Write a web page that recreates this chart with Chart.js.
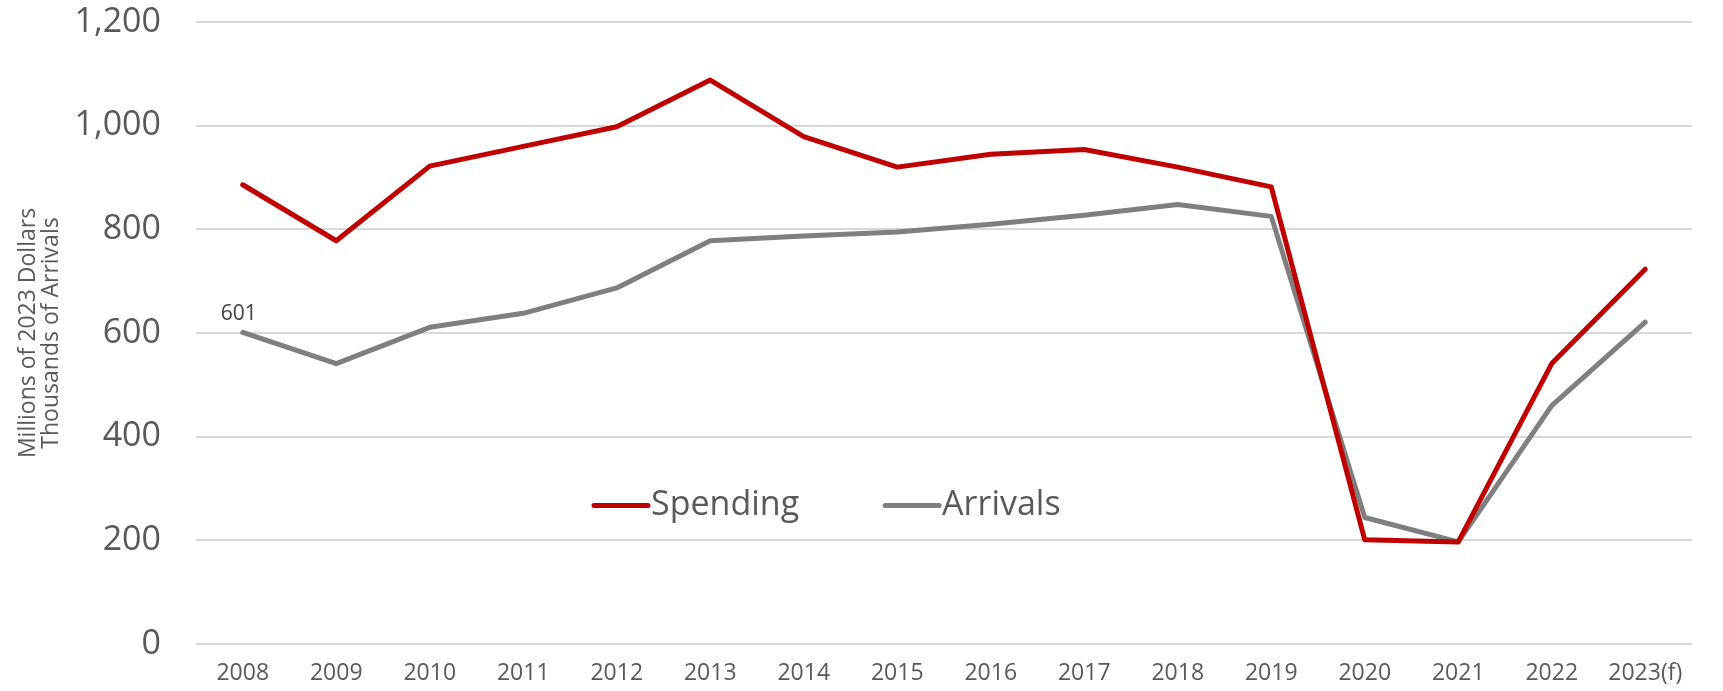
<!DOCTYPE html>
<html>
<head>
<meta charset="utf-8">
<script src="https://cdn.jsdelivr.net/npm/chart.js@4/dist/chart.umd.min.js"></script>
<style>
  html, body { margin: 0; padding: 0; background: #fff; }
  #wrap { width: 1723px; height: 691px; }
</style>
</head>
<body>
<div id="wrap"><canvas id="tourismChart"></canvas></div>
<script>
// 年ごとのラベル
const years = ["2008", "2009", "2010", "2011", "2012", "2013", "2014", "2015",
               "2016", "2017", "2018", "2019", "2020", "2021", "2022", "2023(f)"];
// 支出（百万ドル, 2023年価格）
const spending = [886, 778, 922, 960, 998, 1088, 979, 920, 945, 954, 920, 882, 201, 197, 541, 723];
// 到着数（千人）
const arrivals = [601, 541, 611, 638, 687, 778, 787, 795, 810, 827, 848, 825, 244, 197, 460, 621];
const yTicks = [0, 200, 400, 600, 800, 1000, 1200];

const FONT = "'Open Sans', 'Noto Sans', sans-serif";

// グラフ内に凡例を描く
const innerLegend = {
    id: "innerLegend",
    afterDraw(chart) {
        const ctx = chart.ctx;
        const area = chart.chartArea;
        const y = chart.scales.y.getPixelForValue(267);
        const items = chart.data.datasets.map(ds => ({ label: ds.label, color: ds.borderColor }));
        let x = area.left + 398;
        ctx.save();
        ctx.font = "34px " + FONT;
        ctx.textBaseline = "middle";
        ctx.lineCap = "round";
        items.forEach(item => {
            ctx.strokeStyle = item.color;
            ctx.lineWidth = 5;
            ctx.beginPath();
            ctx.moveTo(x, y);
            ctx.lineTo(x + 54, y);
            ctx.stroke();
            ctx.fillStyle = "#595959";
            ctx.fillText(item.label, x + 57, y);
            x += 57 + ctx.measureText(item.label).width + 86;
        });
        ctx.restore();
    }
};

// 最初の到着数にラベル
const firstLabel = {
    id: "firstLabel",
    afterDatasetsDraw(chart) {
        const pt = chart.getDatasetMeta(1).data[0];
        const ctx = chart.ctx;
        ctx.save();
        ctx.font = "21px " + FONT;
        ctx.fillStyle = "#404040";
        ctx.textAlign = "center";
        ctx.textBaseline = "bottom";
        ctx.fillText(String(arrivals[0]), pt.x - 4, pt.y - 8);
        ctx.restore();
    }
};

const ctx = document.getElementById("tourismChart").getContext("2d");
new Chart(ctx, {
    type: "line",
    data: {
        labels: years,
        datasets: [
            {
                label: "Spending",
                data: spending,
                borderColor: "#C00000",
                backgroundColor: "#C00000",
                borderWidth: 5,
                pointRadius: 0,
                tension: 0,
                borderCapStyle: "round",
                borderJoinStyle: "round",
            },
            {
                label: "Arrivals",
                data: arrivals,
                borderColor: "#7F7F7F",
                backgroundColor: "#7F7F7F",
                borderWidth: 5,
                pointRadius: 0,
                tension: 0,
                borderCapStyle: "round",
                borderJoinStyle: "round",
            },
        ],
    },
    options: {
        responsive: true,
        maintainAspectRatio: false,
        animation: false,
        layout: { padding: { top: 22, right: 31, bottom: 0, left: 17 } },
        scales: {
            x: {
                offset: true,
                grid: { display: false },
                border: { display: false },
                afterFit: (axis) => { axis.height = 47; },
                ticks: {
                    color: "#595959",
                    font: { family: FONT, size: 23 },
                    padding: 8,
                    maxRotation: 0,
                    autoSkip: false,
                },
            },
            y: {
                min: 0,
                max: 1200,
                afterBuildTicks: (axis) => { axis.ticks = yTicks.map(v => ({ value: v })); },
                afterFit: (axis) => {
                    axis.width = 179;
                    axis.paddingTop = 0;
                    axis.paddingBottom = 0;
                },
                grid: { color: "#D9D9D9", lineWidth: 2, drawTicks: false },
                border: { display: false },
                ticks: {
                    color: "#595959",
                    font: { family: FONT, size: 34 },
                    padding: 35,
                    callback: (v) => v.toLocaleString("en-US"),
                },
                title: {
                    display: true,
                    text: ["Millions of 2023 Dollars", "Thousands of Arrivals"],
                    color: "#595959",
                    font: { family: FONT, size: 23, lineHeight: 1.0 },
                    padding: 0,
                },
            },
        },
        plugins: {
            legend: { display: false },
            tooltip: { enabled: false },
        },
    },
    plugins: [innerLegend, firstLabel],
});
</script>
</body>
</html>
